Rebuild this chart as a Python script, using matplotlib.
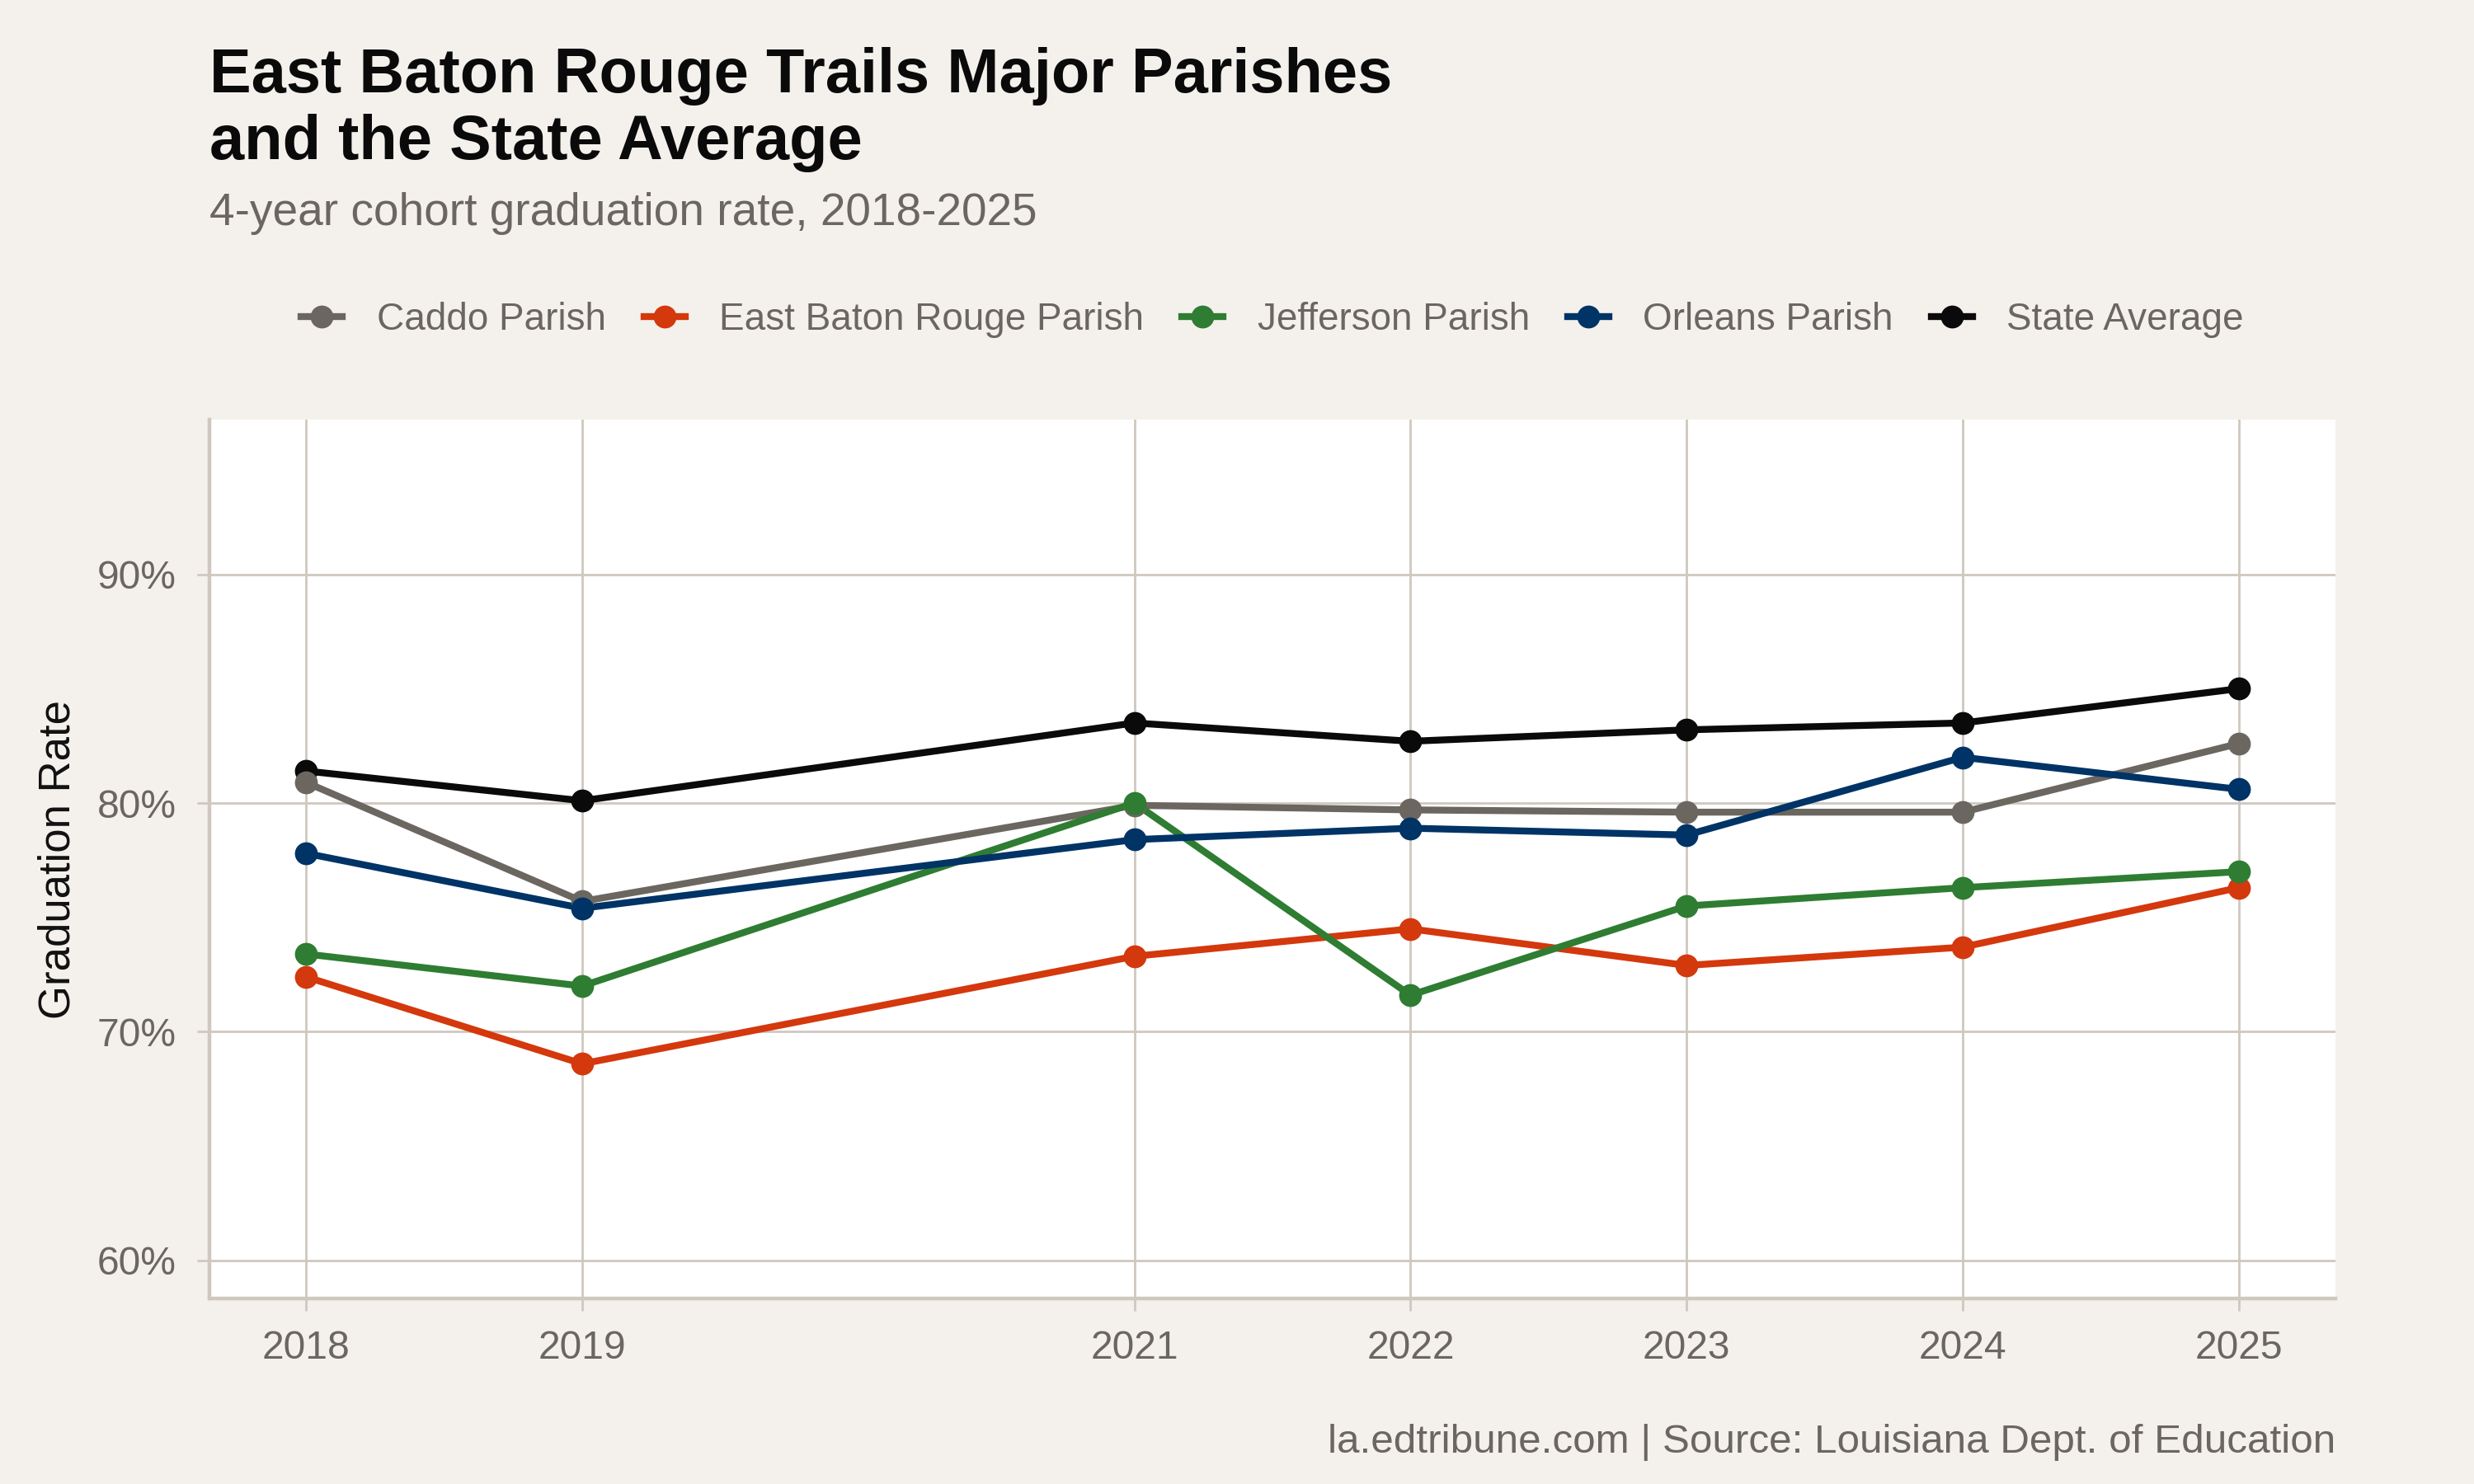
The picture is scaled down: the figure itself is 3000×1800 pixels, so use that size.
import matplotlib
matplotlib.use("Agg")
import matplotlib.pyplot as plt
from matplotlib.lines import Line2D
from matplotlib.ticker import FuncFormatter

# ---------------- data ----------------
years = [2018, 2019, 2021, 2022, 2023, 2024, 2025]
series_names = ["Caddo Parish", "East Baton Rouge Parish", "Jefferson Parish",
                "Orleans Parish", "State Average"]
caddo = [80.9, 75.7, 79.9, 79.7, 79.6, 79.6, 82.6]
ebr = [72.4, 68.6, 73.3, 74.5, 72.9, 73.7, 76.3]
jefferson = [73.4, 72.0, 80.0, 71.6, 75.5, 76.3, 77.0]
orleans = [77.8, 75.4, 78.4, 78.9, 78.6, 82.0, 80.6]
state = [81.4, 80.1, 83.5, 82.7, 83.2, 83.5, 85.0]
yticks = [60, 70, 80, 90]

title_lines = ["East Baton Rouge Trails Major Parishes", "and the State Average"]
subtitle = "4-year cohort graduation rate, 2018-2025"
caption = "la.edtribune.com | Source: Louisiana Dept. of Education"
ylabel = "Graduation Rate"

# ---------------- style ----------------
BG = "#F4F1EC"
GRID = "#CEC8BE"
TXT = "#6B6660"
colors = {
    "Caddo Parish": "#6B6660",
    "East Baton Rouge Parish": "#D4380D",
    "Jefferson Parish": "#2E7D32",
    "Orleans Parish": "#003366",
    "State Average": "#0A0A0A",
}
values = {
    "Caddo Parish": caddo,
    "East Baton Rouge Parish": ebr,
    "Jefferson Parish": jefferson,
    "Orleans Parish": orleans,
    "State Average": state,
}
draw_order = ["State Average", "Caddo Parish", "East Baton Rouge Parish",
              "Jefferson Parish", "Orleans Parish"]

plt.rcParams["font.family"] = ["Liberation Sans", "DejaVu Sans"]

W, H = 3000, 1800
fig = plt.figure(figsize=(15, 9), dpi=200, facecolor=BG)

L, R, T, B = 254, 2832, 509, 1575
ax = fig.add_axes([L / W, 1 - B / H, (R - L) / W, (B - T) / H])
ax.set_facecolor("white")

LW, MS = 3.0, 10
for name in draw_order:
    ax.plot(years, values[name], color=colors[name], lw=LW, zorder=2,
            solid_capstyle="round", solid_joinstyle="round")
for name in draw_order:
    ax.plot(years, values[name], color=colors[name], ls="none", marker="o",
            ms=MS, zorder=3, markeredgewidth=0)

ax.set_xlim(2017.65, 2025.35)
ax.set_ylim(58.34, 96.76)
ax.set_xticks(years)
ax.set_xticklabels([str(y) for y in years])
ax.set_yticks(yticks)
ax.yaxis.set_major_formatter(FuncFormatter(lambda v, p: f"{v:.0f}%"))

ax.grid(True, color=GRID, lw=1.0, zorder=0)
ax.set_axisbelow(True)
for s in ["top", "right"]:
    ax.spines[s].set_visible(False)
for s in ["left", "bottom"]:
    ax.spines[s].set_color(GRID)
    ax.spines[s].set_linewidth(1.6)

ax.tick_params(axis="both", colors=GRID, length=5.5, width=1.0,
               labelcolor=TXT, labelsize=17.3)
ax.tick_params(axis="x", pad=8)
ax.tick_params(axis="y", pad=9)

ax.set_ylabel(ylabel, fontsize=19, color="#111111", labelpad=8)

# titles
fig.text(L / W, 1 - 112 / H, title_lines[0], fontsize=27.3, fontweight="bold",
         color="#0A0A0A", ha="left", va="baseline")
fig.text(L / W, 1 - 193 / H, title_lines[1], fontsize=27.3, fontweight="bold",
         color="#0A0A0A", ha="left", va="baseline")
fig.text(L / W, 1 - 273 / H, subtitle, fontsize=19.8, color=TXT,
         ha="left", va="baseline")
fig.text(R / W, 1 - 1762 / H, caption, fontsize=17.8, color=TXT,
         ha="right", va="baseline")

# legend
handles = [Line2D([0], [0], color=colors[n], lw=LW, marker="o", ms=MS,
                  markeredgewidth=0) for n in series_names]
leg = fig.legend(handles, series_names, loc="center", ncol=5,
                 bbox_to_anchor=((L + R) / 2 / W, 1 - 388 / H),
                 frameon=False, fontsize=16.5, handlelength=1.1,
                 handletextpad=0.9, columnspacing=1.0, labelcolor=TXT)

fig.savefig("out.png", dpi=200, facecolor=BG)
